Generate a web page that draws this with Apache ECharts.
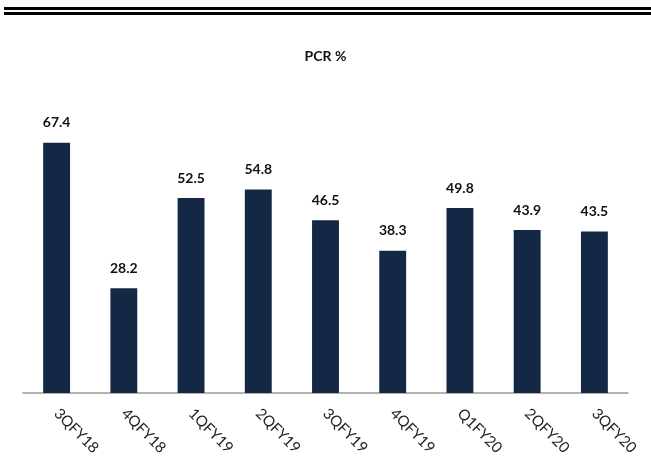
<!DOCTYPE html>
<html>
<head>
<meta charset="utf-8">
<script src="https://cdn.jsdelivr.net/npm/echarts@6/dist/echarts.min.js"></script>
<style>
  html, body { margin: 0; padding: 0; background: #fff; }
  #chart { width: 651px; height: 462px; }
</style>
</head>
<body>
<div id="chart"></div>
<script>
const quarters = ['3QFY18', '4QFY18', '1QFY19', '2QFY19', '3QFY19', '4QFY19', 'Q1FY20', '2QFY20', '3QFY20']
const pcr = [67.4, 28.2, 52.5, 54.8, 46.5, 38.3, 49.8, 43.9, 43.5]

const chart = echarts.init(document.getElementById('chart'))

chart.setOption({
  animation: false,
  title: {
    text: 'PCR %',
    left: 'center',
    top: 44,
    textStyle: { fontFamily: 'Lato', fontWeight: 'bold', fontSize: 14, color: '#111' }
  },
  graphic: [
    { type: 'rect', shape: { x: 4, y: 7, width: 647, height: 3 }, style: { fill: '#000' } },
    { type: 'rect', shape: { x: 4, y: 12, width: 647, height: 3 }, style: { fill: '#000' } }
  ],
  grid: { left: 23, right: 23, top: 96, bottom: 69 },
  xAxis: {
    type: 'category',
    data: quarters,
    axisLine: { lineStyle: { color: '#999', width: 1.5 } },
    axisTick: { length: 5, lineStyle: { color: '#999', width: 1.5 } },
    axisLabel: {
      rotate: -45,
      margin: 18,
      fontFamily: 'Lato',
      fontSize: 15,
      color: '#222'
    }
  },
  yAxis: {
    type: 'value',
    min: 0,
    max: 80,
    show: false
  },
  series: [{
    type: 'bar',
    data: pcr,
    barWidth: '40%',
    itemStyle: { color: '#142846' },
    label: {
      show: true,
      position: 'top',
      distance: 13,
      fontFamily: 'Lato',
      fontWeight: 'bold',
      fontSize: 14,
      color: '#111',
      formatter: p => p.value.toFixed(1)
    }
  }]
})
</script>
</body>
</html>
